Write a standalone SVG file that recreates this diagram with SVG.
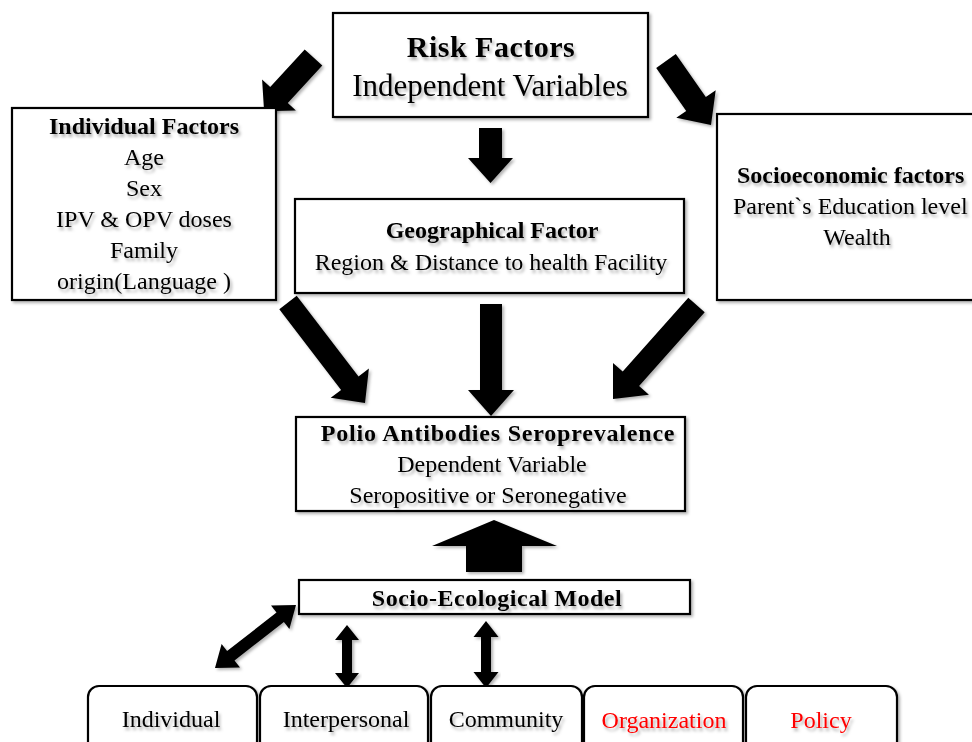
<svg xmlns="http://www.w3.org/2000/svg" width="972" height="742" viewBox="0 0 972 742">
<defs>
<filter id="ts" x="-10%" y="-30%" width="120%" height="160%">
<feDropShadow dx="2" dy="3" stdDeviation="1.6" flood-color="#000" flood-opacity="0.3"/>
</filter>
<filter id="bs" x="-10%" y="-10%" width="120%" height="130%">
<feDropShadow dx="2" dy="2" stdDeviation="1.5" flood-color="#000" flood-opacity="0.3"/>
</filter>
</defs>
<style>
.box{fill:#fff;stroke:#000;stroke-width:2.2;filter:url(#bs)}
.t{font-family:"Liberation Serif","Times New Roman",serif;font-size:24px;fill:#000;filter:url(#ts)}
.b{font-weight:bold}
.c{text-anchor:middle}
.red{fill:#ff0000}
.arr{fill:#000;filter:url(#bs)}
</style>
<rect width="972" height="742" fill="#fff"/>

<g id="connectors">
<polygon class="arr" points="304.7,49.4 322.3,65.6 287.8,103.1 295.9,110.6 264.1,111.2 262.1,79.4 270.2,86.9"/>
<polygon class="arr" points="675.8,54.1 656.2,67.9 686.2,110.9 676.3,117.7 711,125 715.7,90.3 705.8,97.1"/>
<polygon class="arr" points="479,128 502,128 502,158 513,158 490.5,183 468,158 479,158"/>
<polygon class="arr" points="296.7,295.8 279.3,309.2 341.1,389.9 330.7,397.8 365,403 368.9,368.6 358.5,376.5"/>
<polygon class="arr" points="480,304 502,304 502,390 514,390 491,416 468,390 480,390"/>
<polygon class="arr" points="688.3,297.7 704.7,312.3 639.1,386.1 648.9,394.7 613,399 613,362.9 622.7,371.5"/>
<polygon class="arr" points="466,572 522,572 522,546 557,546 494,520 432,546 466,546"/>
<polygon class="arr" points="215,668 240,667.5 234.5,660.4 283.9,622 289.4,629.1 296,605 271,605.5 276.5,612.6 227.1,651 221.6,643.9"/>
<polygon class="arr" points="347,625 359,640 352,640 352,673 359,673 347,688 335,673 342,673 342,640 335,640"/>
<polygon class="arr" points="486,621 498.5,637 491,637 491,672 498.5,672 486,688 473.5,672 481,672 481,637 473.5,637"/>
</g>

<g id="risk">
<rect class="box" x="333" y="13" width="315" height="104"/>
<text class="t b c" x="491" y="57" letter-spacing="0.5" style="font-size:30px">Risk Factors</text>
<text class="t c" x="490" y="96" style="font-size:31px">Independent Variables</text>
</g>

<g id="individual">
<rect class="box" x="12" y="108" width="264" height="192"/>
<text class="t b c" x="144" y="134">Individual Factors</text>
<text class="t c" x="144" y="165">Age</text>
<text class="t c" x="144" y="196">Sex</text>
<text class="t c" x="144" y="227">IPV &amp; OPV doses</text>
<text class="t c" x="144" y="258">Family</text>
<text class="t c" x="144" y="289">origin(Language )</text>
</g>

<g id="socioeconomic">
<rect class="box" x="717" y="114" width="270" height="186"/>
<text class="t b" x="737" y="183">Socioeconomic factors</text>
<text class="t" x="733" y="214">Parent`s Education level</text>
<text class="t c" x="857" y="245">Wealth</text>
</g>

<g id="geographical">
<rect class="box" x="295" y="199" width="389" height="94"/>
<text class="t b c" x="492" y="238">Geographical Factor</text>
<text class="t c" x="491" y="270">Region &amp; Distance to health Facility</text>
</g>

<g id="polio">
<rect class="box" x="296" y="417" width="389" height="94"/>
<text class="t b c" x="498" y="441" letter-spacing="0.8">Polio Antibodies Seroprevalence</text>
<text class="t c" x="492" y="472">Dependent Variable</text>
<text class="t c" x="488" y="503">Seropositive or Seronegative</text>
</g>

<g id="sem">
<rect class="box" x="299" y="580" width="391" height="34"/>
<text class="t b c" x="497" y="606" letter-spacing="0.5">Socio-Ecological Model</text>
</g>

<g id="individual-level">
<rect class="box" x="88" y="686" width="169" height="70" rx="11"/>
<text class="t c" x="171" y="727">Individual</text>
</g>
<g id="interpersonal">
<rect class="box" x="260" y="686" width="168" height="70" rx="11"/>
<text class="t c" x="346" y="727">Interpersonal</text>
</g>
<g id="community">
<rect class="box" x="431" y="686" width="151" height="70" rx="11"/>
<text class="t c" x="506" y="727">Community</text>
</g>
<g id="organization">
<rect class="box" x="584" y="686" width="159" height="70" rx="11"/>
<text class="t c red" x="664" y="728">Organization</text>
</g>
<g id="policy">
<rect class="box" x="746" y="686" width="151" height="70" rx="11"/>
<text class="t c red" x="821" y="728">Policy</text>
</g>
</svg>
